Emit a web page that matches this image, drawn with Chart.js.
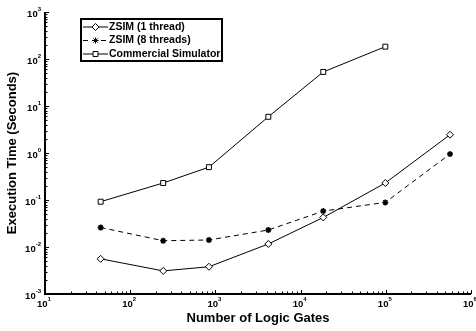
<!DOCTYPE html>
<html><head><meta charset="utf-8">
<script src="https://cdn.jsdelivr.net/npm/chart.js@4"></script>
<style>html,body{margin:0;padding:0;background:#fff}</style>
</head><body>
<canvas id="c" width="476" height="331"></canvas>
<script>
const gates = [45, 244, 840, 4180, 18450, 98700, 567000];
const zsim1 = [0.0056, 0.0031, 0.0038, 0.0116, 0.0425, 0.23, 2.45];
const zsim8 = [0.026, 0.0136, 0.0141, 0.023, 0.058, 0.089, 0.95];
const commercialGates = [45, 244, 840, 4180, 18450, 98700];
const commercial = [0.092, 0.23, 0.50, 5.9, 53, 183];
const seriesNames = ['ZSIM (1 thread)', 'ZSIM (8 threads)', 'Commercial Simulator'];
const xTickExps = [1, 2, 3, 4, 5, 6];
const yTickExps = [-3, -2, -1, 0, 1, 2, 3];
const xTitle = 'Number of Logic Gates';
const yTitle = 'Execution Time (Seconds)';

const FONT = '"Liberation Sans", Arial, Helvetica, sans-serif';
const pts = (xs, ys) => xs.map((x, i) => ({x, y: ys[i]}));

const axesPlugin = {
  id: 'axesPlugin',
  afterDraw(chart) {
    const ctx = chart.ctx;
    const xs = chart.scales.x, ys = chart.scales.y;
    const a = chart.chartArea;
    ctx.save();
    ctx.strokeStyle = '#000';
    ctx.fillStyle = '#000';
    ctx.lineWidth = 1;
    // ticks (inward)
    ctx.beginPath();
    for (let e = xTickExps[0]; e <= xTickExps[xTickExps.length - 1]; e++) {
      for (let m = 1; m <= 9; m++) {
        const v = m * Math.pow(10, e);
        if (v > xs.max * 1.0001) break;
        const px = Math.round(xs.getPixelForValue(v)) + 0.5;
        const len = m === 1 ? 4 : 2.5;
        ctx.moveTo(px, a.bottom); ctx.lineTo(px, a.bottom - len);
      }
    }
    for (let e = yTickExps[0]; e <= yTickExps[yTickExps.length - 1]; e++) {
      for (let m = 1; m <= 9; m++) {
        const v = m * Math.pow(10, e);
        if (v > ys.max * 1.0001) break;
        const py = Math.round(ys.getPixelForValue(v)) + 0.5;
        const len = m === 1 ? 4 : 2.5;
        ctx.moveTo(a.left, py); ctx.lineTo(a.left + len, py);
      }
    }
    ctx.stroke();
    // axis lines
    ctx.lineWidth = 2;
    ctx.beginPath();
    ctx.moveTo(a.left, a.top); ctx.lineTo(a.left, a.bottom); ctx.lineTo(a.right, a.bottom);
    ctx.stroke();
    // tick labels
    const baseFont = 'bold 9.5px ' + FONT;
    const supFont = 'bold 6px ' + FONT;
    ctx.textBaseline = 'middle';
    xTickExps.forEach(e => {
      const px = xs.getPixelForValue(Math.pow(10, e));
      ctx.font = baseFont; const w1 = ctx.measureText('10').width;
      ctx.font = supFont; const w2 = ctx.measureText(String(e)).width;
      const start = px - (w1 + w2) / 2 - 1;
      ctx.textAlign = 'left';
      ctx.font = baseFont; ctx.fillText('10', start, a.bottom + 10);
      ctx.font = supFont; ctx.fillText(String(e), start + w1, a.bottom + 5);
    });
    yTickExps.forEach(e => {
      const py = ys.getPixelForValue(Math.pow(10, e));
      ctx.font = supFont; const w2 = ctx.measureText(String(e)).width;
      ctx.textAlign = 'right';
      const right = a.left - 4;
      ctx.fillText(String(e), right, py - 3);
      ctx.font = baseFont; ctx.fillText('10', right - w2, py + 2);
    });
    // legend box
    const lx = a.left + 36, ly = a.top + 7, lw = 141, lh = 42;
    ctx.lineWidth = 2;
    ctx.fillStyle = '#fff';
    ctx.fillRect(lx, ly, lw, lh);
    ctx.strokeRect(lx, ly, lw, lh);
    chart.data.datasets.forEach((ds, i) => {
      const cy = ly + 7.5 + i * 13.5;
      const x0 = lx + 2, x1 = lx + 27, xm = (x0 + x1) / 2;
      ctx.strokeStyle = '#000';
      ctx.lineWidth = 1;
      ctx.setLineDash(ds.borderDash || []);
      ctx.beginPath(); ctx.moveTo(x0, cy + 0.5); ctx.lineTo(x1, cy + 0.5); ctx.stroke();
      ctx.setLineDash([]);
      ctx.fillStyle = ds.pointBackgroundColor;
      Chart.helpers.drawPoint(ctx, {
        pointStyle: ds.pointStyle, radius: ds.pointRadius, borderWidth: ds.pointBorderWidth, rotation: 0
      }, xm, cy + 0.5);
      ctx.fillStyle = '#000';
      ctx.font = 'bold 10.5px ' + FONT;
      ctx.textAlign = 'left';
      ctx.textBaseline = 'middle';
      ctx.fillText(ds.label, x1 + 1, cy + 0.5);
    });
    ctx.restore();
  }
};

new Chart(document.getElementById('c'), {
  type: 'line',
  data: {
    datasets: [
      {label: seriesNames[0], data: pts(gates, zsim1), borderColor: '#000', borderWidth: 1,
       pointStyle: 'rectRot', pointRadius: 3.5, pointBackgroundColor: '#fff', pointBorderColor: '#000', pointBorderWidth: 1},
      {label: seriesNames[1], data: pts(gates, zsim8), borderColor: '#000', borderWidth: 1, borderDash: [5, 4],
       pointStyle: 'star', pointRadius: 3, pointBackgroundColor: '#000', pointBorderColor: '#000', pointBorderWidth: 1.5},
      {label: seriesNames[2], data: pts(commercialGates, commercial), borderColor: '#000', borderWidth: 1,
       pointStyle: 'rect', pointRadius: 3.5, pointBackgroundColor: '#fff', pointBorderColor: '#000', pointBorderWidth: 1}
    ]
  },
  options: {
    responsive: false, animation: false, devicePixelRatio: 1,
    layout: {autoPadding: false, padding: {top: 12, right: 5, left: 0, bottom: 0}},
    plugins: {legend: {display: false}, tooltip: {enabled: false}},
    scales: {
      x: {
        type: 'logarithmic', min: 10, max: 1e6,
        grid: {display: false}, border: {display: false}, ticks: {display: false},
        title: {display: true, text: xTitle, color: '#000', font: {family: FONT, size: 13, weight: 'bold'}, padding: {top: 0, bottom: 5}},
        afterFit(s) { s.height = 37; }
      },
      y: {
        type: 'logarithmic', min: 1e-3, max: 1e3,
        grid: {display: false}, border: {display: false}, ticks: {display: false},
        title: {display: true, text: yTitle, color: '#000', font: {family: FONT, size: 13, weight: 'bold'}, padding: {top: 5, bottom: 0}},
        afterFit(s) { s.width = 45; }
      }
    }
  },
  plugins: [axesPlugin]
});
</script>
</body></html>
